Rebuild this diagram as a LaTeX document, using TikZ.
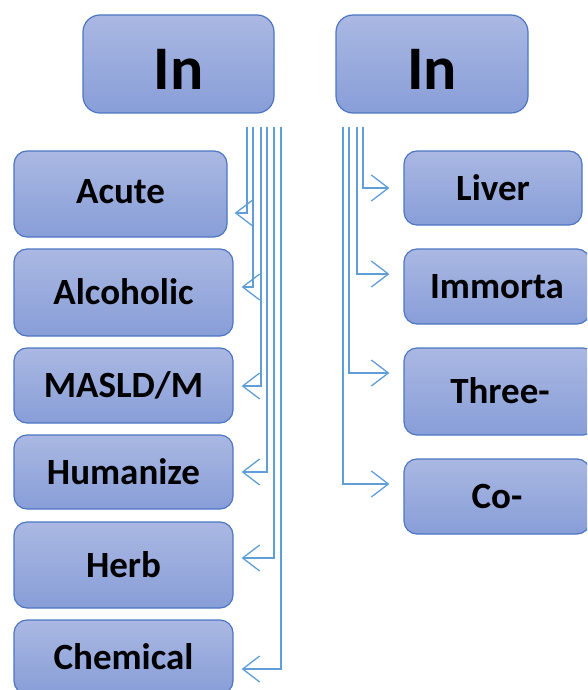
\documentclass[tikz,border=0pt]{standalone}
\usepackage{fontspec}
\setmainfont{Carlito}
\usetikzlibrary{arrows.meta}
\definecolor{boxtop}{RGB}{170,184,226}
\definecolor{boxbot}{RGB}{136,158,216}
\definecolor{boxedge}{RGB}{76,118,196}
\definecolor{connblue}{RGB}{96,158,216}
\tikzset{
  box/.style={draw=boxedge, line width=1.2pt, rounded corners=13pt,
    top color=boxtop, bottom color=boxbot, inner sep=0pt,
    font=\bfseries\fontsize{37}{40}\selectfont, text height=24pt, text depth=0pt},
  headbox/.style={box, rounded corners=17pt,
    font=\bfseries\fontsize{62}{66}\selectfont, text height=52pt, text depth=0pt},
  conn/.style={draw=connblue, line width=1.3pt,
    -{Straight Barb[length=17pt,width=26pt]}}
}
\begin{document}
\begin{tikzpicture}[x=1pt,y=-1pt]
\useasboundingbox (0,0) rectangle (587,690);
\clip (0,0) rectangle (587,690);
% headers
\node[headbox, minimum width=191pt, minimum height=98pt] (topL) at (178.5,64) {In};
\node[headbox, minimum width=192pt, minimum height=98pt] (topR) at (432,64) {In};
% left column
\node[box, minimum width=213pt, minimum height=86pt, text height=18pt] (acute) at (120.5,194) {Acute};
\node[box, minimum width=219pt, minimum height=87pt] (alc) at (123.5,292.5) {Alcoholic};
\node[box, minimum width=219pt, minimum height=75pt] (masld) at (123.5,385.5) {MASLD/M};
\node[box, minimum width=219pt, minimum height=74pt] (hum) at (123.5,472) {Humanize};
\node[box, minimum width=219pt, minimum height=86pt] (herb) at (123.5,565) {Herb};
\node[box, minimum width=219pt, minimum height=74pt] (chem) at (123.5,657) {Chemical};
% right column
\node[box, minimum width=178pt, minimum height=74pt] (liver) at (493,188) {Liver};
\node[box, minimum width=186pt, minimum height=75pt] (imm) at (497,286.5) {Immorta};
\node[box, minimum width=192pt, minimum height=87pt] (three) at (500,391.5) {Three-};
\node[box, minimum width=186pt, minimum height=75pt] (co) at (497,496.5) {Co-};
% connector start points (just below the headers)
\coordinate (sL1) at ([xshift=68.5pt,yshift=-13pt]topL.south);
\coordinate (sL2) at ([xshift=74.5pt,yshift=-13pt]topL.south);
\coordinate (sL3) at ([xshift=82.5pt,yshift=-13pt]topL.south);
\coordinate (sL4) at ([xshift=88.5pt,yshift=-13pt]topL.south);
\coordinate (sL5) at ([xshift=95.5pt,yshift=-13pt]topL.south);
\coordinate (sL6) at ([xshift=102.5pt,yshift=-13pt]topL.south);
\coordinate (sR1) at ([xshift=-69pt,yshift=-13pt]topR.south);
\coordinate (sR2) at ([xshift=-75pt,yshift=-13pt]topR.south);
\coordinate (sR3) at ([xshift=-83pt,yshift=-13pt]topR.south);
\coordinate (sR4) at ([xshift=-89pt,yshift=-13pt]topR.south);
% left connectors
\draw[conn] (sL1) |- ([xshift=7pt,yshift=-19pt]acute.east);
\draw[conn] (sL2) |- ([xshift=8pt,yshift=5.5pt]alc.east);
\draw[conn] (sL3) |- ([xshift=8pt,yshift=-0.5pt]masld.east);
\draw[conn] (sL4) |- ([xshift=8pt]hum.east);
\draw[conn] (sL5) |- ([xshift=8pt,yshift=7pt]herb.east);
\draw[conn] (sL6) |- ([xshift=8pt,yshift=-12pt]chem.east);
% right connectors
\draw[conn] (sR1) |- ([xshift=-14pt]liver.west);
\draw[conn] (sR2) |- ([xshift=-14pt,yshift=12.5pt]imm.west);
\draw[conn] (sR3) |- ([xshift=-14pt,yshift=18.5pt]three.west);
\draw[conn] (sR4) |- ([xshift=-14pt,yshift=12.5pt]co.west);
\end{tikzpicture}
\end{document}
